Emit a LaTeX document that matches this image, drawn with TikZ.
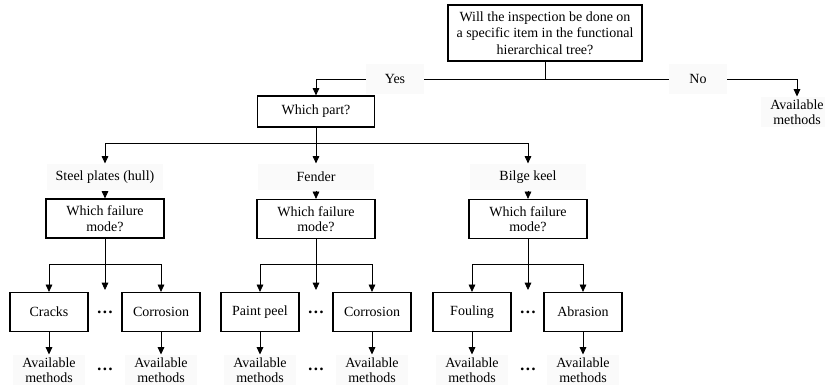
\documentclass[tikz,border=0pt]{standalone}
\usepackage{fontspec}
\setmainfont{Liberation Serif}
\usetikzlibrary{arrows.meta,backgrounds}

\begin{document}
\begin{tikzpicture}[x=0.75pt,y=-0.75pt,
  every node/.style={font=\fontsize{10.5}{11.5}\selectfont, align=center},
  box/.style={draw, line width=0.9pt, fill=white, inner sep=1pt},
  qbox/.style={box, minimum width=145.5pt, minimum height=42pt, font=\fontsize{10.5}{12.4}\selectfont},
  partbox/.style={box, minimum width=87.75pt, minimum height=23.25pt},
  modebox/.style={box, minimum width=88.5pt, minimum height=29.25pt},
  leafbox/.style={box, minimum width=58.5pt, minimum height=29.25pt},
  tag/.style={fill=black!2, inner sep=2pt, minimum width=87pt, minimum height=20pt},
  answer/.style={fill=black!2, inner sep=2pt, minimum width=43pt, minimum height=22pt},
  methods/.style={fill=black!2, inner sep=2pt, minimum width=54pt},
  dots/.style={font=\bfseries\fontsize{12.5}{12.5}\selectfont, inner sep=0pt},
  link/.style={line width=0.6pt},
  arr/.style={link, -{Triangle[width=5pt,length=5.5pt]}}]

\useasboundingbox (0,0) rectangle (825,387);

% question and answers
\node[qbox] (q) at (545,33) {Will the inspection be done on\\a specific item in the functional\\hierarchical tree?};
\node[answer] (yes) at (395,79) {Yes};
\node[answer] (no) at (698,79) {No};
\node[methods] (amNo) at (797,112) {Available\\methods};
\node[partbox] (part) at (316,111.5) {Which part?};

% parts
\node[tag] (steel) at (105,177) {Steel plates (hull)};
\node[tag] (fender) at (316,177) {Fender};
\node[tag] (bilge) at (528,177) {Bilge keel};

\node[modebox] (fm1) at (105,218.5) {Which failure\\mode?};
\node[modebox] (fm2) at (316,219) {Which failure\\mode?};
\node[modebox] (fm3) at (528,219) {Which failure\\mode?};

% failure modes
\node[leafbox] (cracks) at (49,312) {Cracks};
\node[leafbox] (corr1) at (161,312) {Corrosion};
\node[leafbox] (paint) at (260,312) {Paint peel};
\node[leafbox] (corr2) at (372,312) {Corrosion};
\node[leafbox] (foul) at (472,312) {Fouling};
\node[leafbox] (abr) at (583,312) {Abrasion};

\node[dots] (d1) at (105,312) {…};
\node[dots] (d2) at (316,312) {…};
\node[dots] (d3) at (528,312) {…};

% methods
\node[methods] (am1) at (49,370) {Available\\methods};
\node[methods] (am2) at (161,370) {Available\\methods};
\node[methods] (am3) at (260,370) {Available\\methods};
\node[methods] (am4) at (372,370) {Available\\methods};
\node[methods] (am5) at (472,370) {Available\\methods};
\node[methods] (am6) at (583,370) {Available\\methods};

\node[dots] (e1) at (105,369) {…};
\node[dots] (e2) at (316,369) {…};
\node[dots] (e3) at (528,369) {…};

% junctions
\coordinate (pj) at (316,143);
\coordinate (fj1) at (105,264);
\coordinate (fj2) at (316,264);
\coordinate (fj3) at (528,264);
\coordinate (m1) at (105,290);
\coordinate (m2) at (316,290);
\coordinate (m3) at (528,290);

\begin{pgfonlayer}{background}
  \draw[link] (q.south) -- (q.south |- yes.center);
  \draw[arr] (q.south |- yes.center) -| (part.north);
  \draw[arr] (q.south |- no.center) -| (amNo.north);

  \draw[link] (part.south) -- (pj);
  \draw[arr] (pj) -| (steel.north);
  \draw[arr] (pj) -- (fender.north);
  \draw[arr] (pj) -| (bilge.north);

  \draw[arr] (steel.south) -- (fm1.north);
  \draw[arr] (fender.south) -- (fm2.north);
  \draw[arr] (bilge.south) -- (fm3.north);

  \draw[link] (fm1.south) -- (fj1);
  \draw[arr] (fj1) -| (cracks.north);
  \draw[arr] (fj1) -| (corr1.north);
  \draw[arr] (fj1) -- (m1);

  \draw[link] (fm2.south) -- (fj2);
  \draw[arr] (fj2) -| (paint.north);
  \draw[arr] (fj2) -| (corr2.north);
  \draw[arr] (fj2) -- (m2);

  \draw[link] (fm3.south) -- (fj3);
  \draw[arr] (fj3) -| (foul.north);
  \draw[arr] (fj3) -| (abr.north);
  \draw[arr] (fj3) -- (m3);

  \draw[arr] (cracks.south) -- (am1.north);
  \draw[arr] (corr1.south) -- (am2.north);
  \draw[arr] (paint.south) -- (am3.north);
  \draw[arr] (corr2.south) -- (am4.north);
  \draw[arr] (foul.south) -- (am5.north);
  \draw[arr] (abr.south) -- (am6.north);
\end{pgfonlayer}
\end{tikzpicture}
\end{document}
